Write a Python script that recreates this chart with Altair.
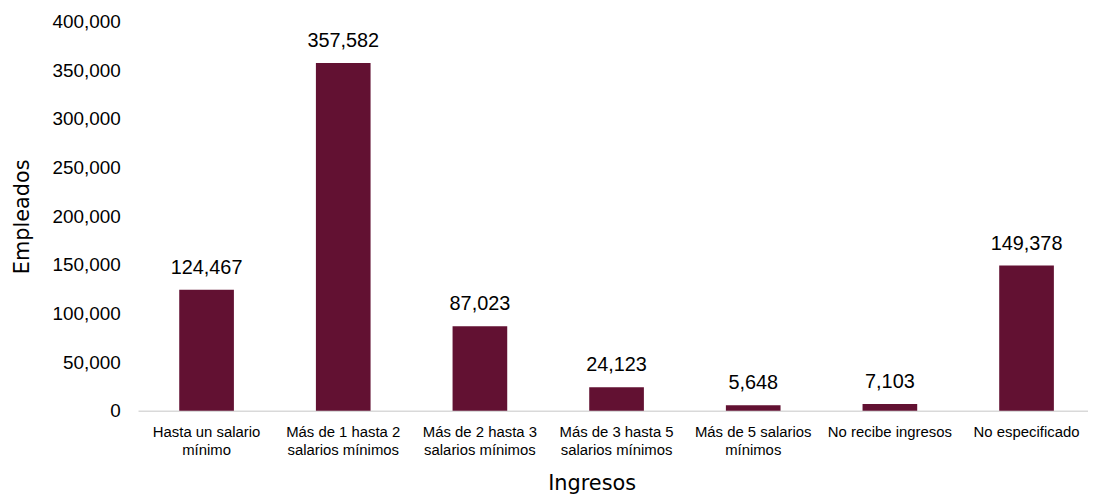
import altair as alt
import pandas as pd
import json

categories = [
    "Hasta un salario mínimo",
    "Más de 1 hasta 2 salarios mínimos",
    "Más de 2 hasta 3 salarios mínimos",
    "Más de 3 hasta 5 salarios mínimos",
    "Más de 5 salarios mínimos",
    "No recibe ingresos",
    "No especificado",
]
label_lines = [
    ["Hasta un salario", "mínimo"],
    ["Más de 1 hasta 2", "salarios mínimos"],
    ["Más de 2 hasta 3", "salarios mínimos"],
    ["Más de 3 hasta 5", "salarios mínimos"],
    ["Más de 5 salarios", "mínimos"],
    ["No recibe ingresos"],
    ["No especificado"],
]
empleados = [124467, 357582, 87023, 24123, 5648, 7103, 149378]
y_ticks = [0, 50000, 100000, 150000, 200000, 250000, 300000, 350000, 400000]

df = pd.DataFrame({"Ingresos": categories, "Empleados": empleados})

expr = "datum.value"
for cat, lines in reversed(list(zip(categories, label_lines))):
    expr = f"datum.value == {json.dumps(cat)} ? {json.dumps(lines)} : ({expr})"

BAR = "#621132"
FONT = "Liberation Sans"
TFONT = "DejaVu Sans"

xscale = alt.Scale(paddingInner=0.6, paddingOuter=0.2756, align=0.547)

x = alt.X(
    "Ingresos:N",
    sort=categories,
    scale=xscale,
    axis=alt.Axis(
        title="Ingresos",
        labelAngle=0,
        labelExpr=expr,
        labelFont=FONT,
        labelFontSize=15,
        labelColor="#000000",
        labelPadding=21,
        labelLineHeight=18,
        labelBaseline="middle",
        ticks=False,
        grid=False,
        domainColor="#d9d9d9",
        domainWidth=1.5,
        titleFont=TFONT,
        titleFontSize=21,
        titleFontWeight="normal",
        titleColor="#000000",
        titleX=457,
        titleY=79,
        titleAnchor="start",
        titleAlign="center",
        titleBaseline="alphabetic",
    ),
)
y = alt.Y(
    "Empleados:Q",
    scale=alt.Scale(domain=[0, 400000], nice=False),
    axis=alt.Axis(
        title="Empleados",
        values=y_ticks,
        format=",.0f",
        grid=False,
        domain=False,
        ticks=False,
        labelFont=FONT,
        labelFontSize=19,
        labelColor="#000000",
        labelPadding=18,
        titleFont=TFONT,
        titleFontSize=21,
        titleFontWeight="normal",
        titleColor="#000000",
        titleX=-116,
        titleY=196,
        titleAngle=-90,
        titleAlign="center",
        titleBaseline="middle",
    ),
)

bars = alt.Chart(df).mark_bar(color=BAR).encode(x=x, y=y)
labels = alt.Chart(df).mark_text(
    font=FONT, fontSize=20, color="#000000", baseline="bottom", dy=-12
).encode(
    x=alt.X("Ingresos:N", sort=categories, scale=xscale),
    y="Empleados:Q",
    text=alt.Text("Empleados:Q", format=","),
)

chart = (
    alt.layer(bars, labels)
    .properties(
        width=957,
        height=392,
        autosize=alt.AutoSizeParams(type="none"),
        padding={"left": 131, "top": 12, "right": 0, "bottom": 88},
        view=alt.ViewBackground(stroke="transparent", strokeWidth=0, strokeOpacity=0),
    )
    .configure(background="#ffffff")
    .configure_view(strokeWidth=0, stroke="transparent", strokeOpacity=0)
    .configure_axis(grid=False)
)

chart.save("out.html", embed_options={"renderer": "svg", "actions": False})
